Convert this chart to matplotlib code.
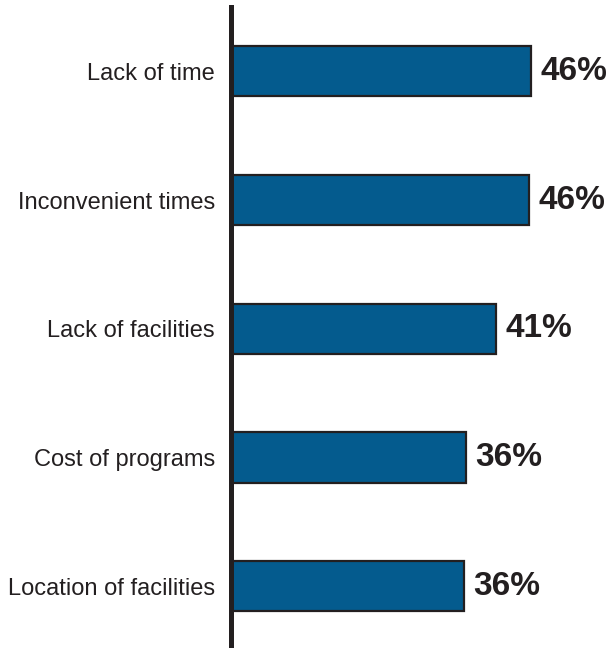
import matplotlib
matplotlib.use("Agg")
import matplotlib.pyplot as plt
from matplotlib import font_manager

categories = ["Lack of time", "Inconvenient times", "Lack of facilities",
              "Cost of programs", "Location of facilities"]
values = [46.2, 45.9, 40.8, 36.1, 35.8]
labels = ["46%", "46%", "41%", "36%", "36%"]

names = {f.name for f in font_manager.fontManager.ttflist}
fam = ["Liberation Sans Narrow", "DejaVu Sans"] if "Liberation Sans Narrow" in names else ["Liberation Sans", "DejaVu Sans"]

W, H = 613, 648
fig = plt.figure(figsize=(W/100, H/100), dpi=100)
ax_left = 231
ax = fig.add_axes([ax_left/W, 0, (W-ax_left)/W, (H-7)/H])
ax.set_xlim(0, (W-ax_left)/6.5)
ax.set_ylim(4.48, -0.5)

dark = "#231f20"
ax.barh(range(len(categories)), values, height=0.39, color="#045B8E",
        edgecolor=dark, linewidth=1.6, zorder=2)
for i, (v, lab) in enumerate(zip(values, labels)):
    ax.text(v + 1.4, i, lab, va="center", ha="left", fontsize=24,
            fontweight="bold", family=fam, color=dark)

ax.set_yticks(range(len(categories)))
ax.set_yticklabels(categories, family=fam, fontsize=17, color=dark)
ax.tick_params(axis="y", length=0, pad=11.5)
ax.set_xticks([])
for s in ["top", "right", "bottom"]:
    ax.spines[s].set_visible(False)
ax.spines["left"].set_linewidth(3.6)
ax.spines["left"].set_color(dark)
ax.spines["left"].set_zorder(3)

fig.savefig("out.png", dpi=100, facecolor="white")
